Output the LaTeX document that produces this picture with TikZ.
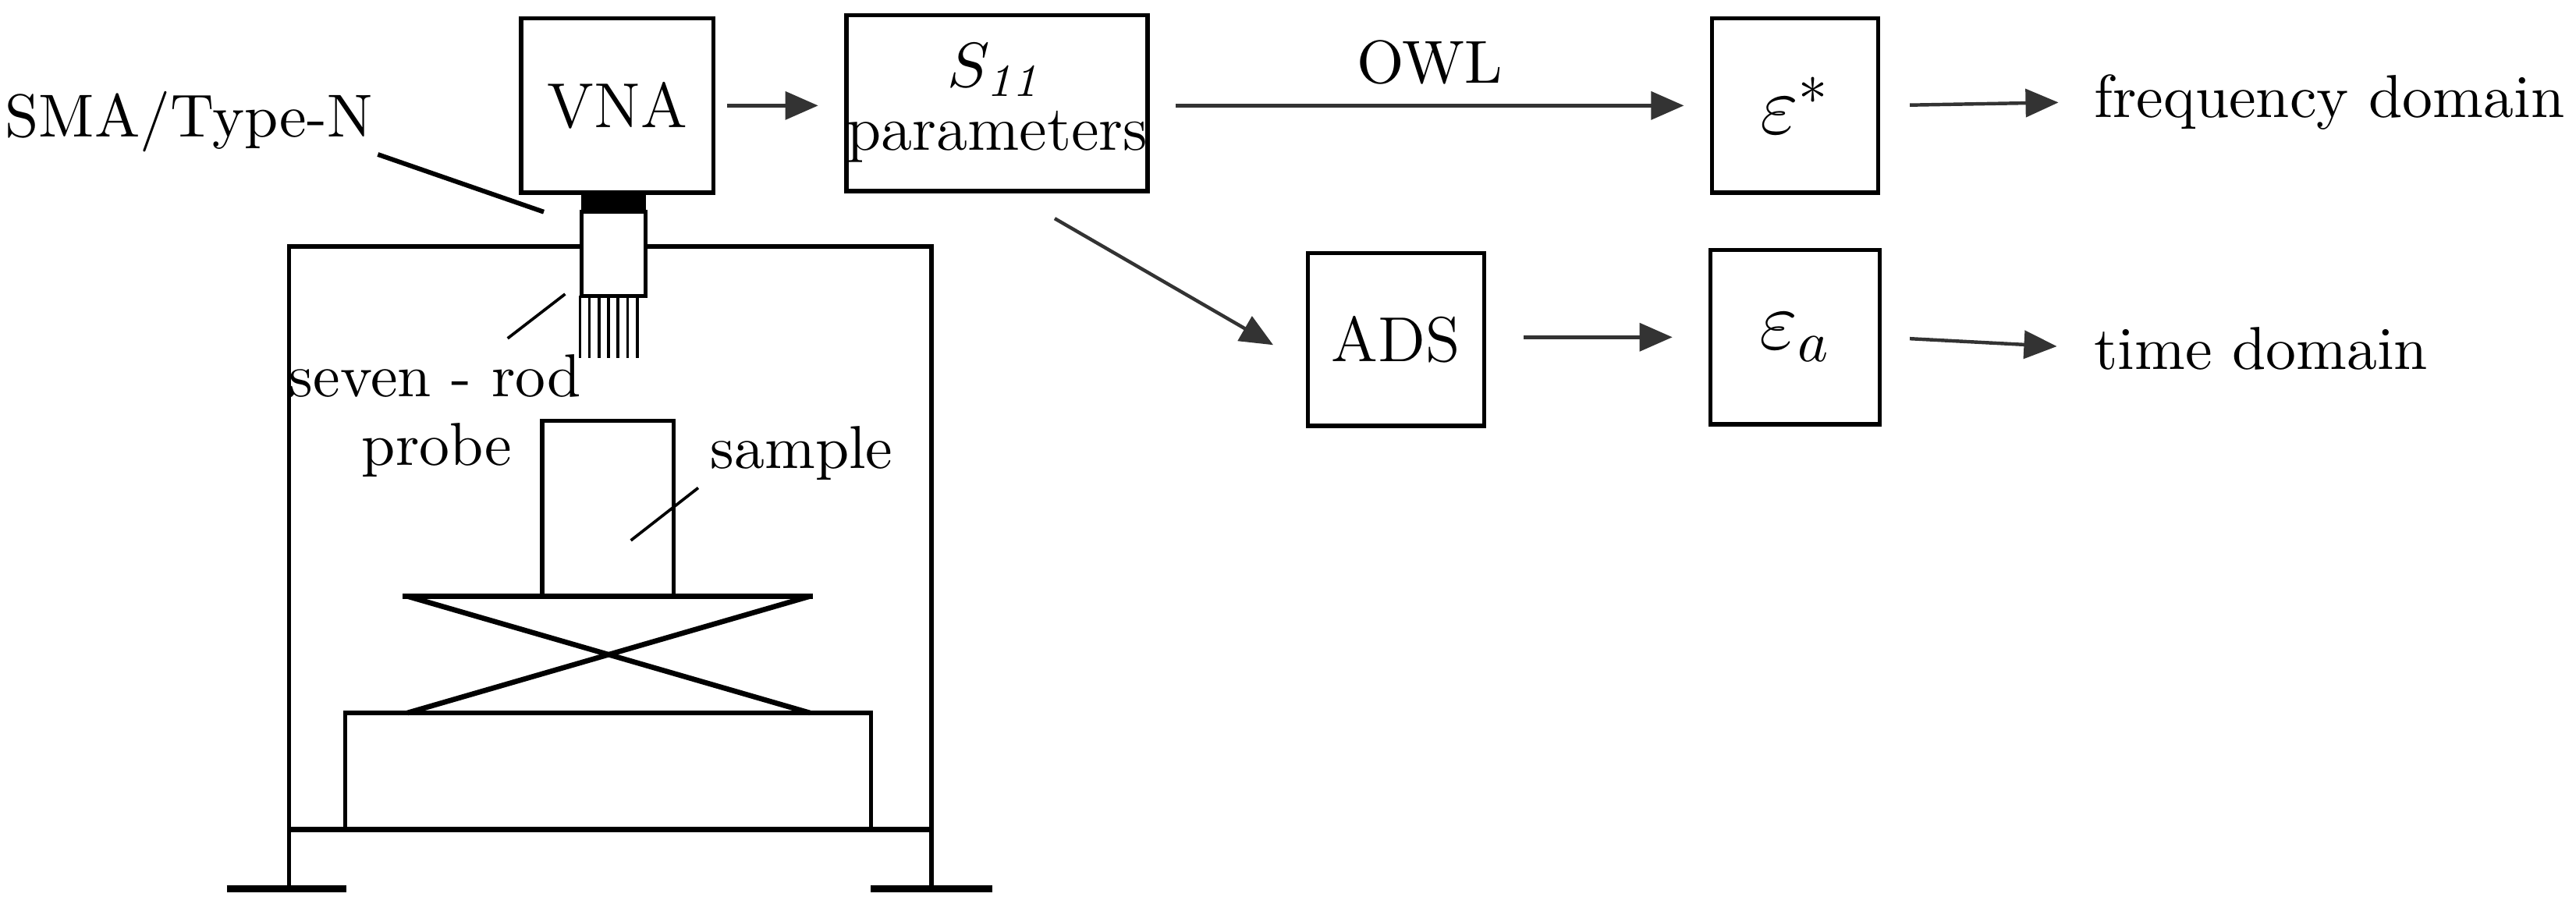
\documentclass[tikz,border=0pt]{standalone}
\usetikzlibrary{arrows.meta}
\begin{document}
\begin{tikzpicture}[x=0.01cm,y=-0.01cm,
  lw/.style={line width=0.7pt},
  box/.style={draw,lw,inner sep=0pt,anchor=north west,font=\fontsize{11}{13}\selectfont},
  arr/.style={line width=0.6pt,draw=black!80,-{Triangle[length=0.2cm,width=0.17cm]}},
  lbl/.style={inner sep=0pt,font=\fontsize{10.5}{12.5}\selectfont},
  lead/.style={line width=0.5pt}]
\useasboundingbox (0,0) rectangle (1568,550);
% boxes
\node[box,minimum width=1.17cm,minimum height=1.06cm] (vna) at (316,10) {VNA};
\node[box,minimum width=1.83cm,minimum height=1.07cm,align=center] (s11) at (514,8) {$S_{\mathit{11}}$\\[-2pt]parameters};
\node[box,minimum width=1.01cm,minimum height=1.06cm,font=\fontsize{14}{16}\selectfont] (eps) at (1041,10) {$\varepsilon^*$};
\node[box,minimum width=1.07cm,minimum height=1.05cm] (ads) at (795,153) {ADS};
\node[box,minimum width=1.03cm,minimum height=1.06cm,font=\fontsize{14}{16}\selectfont] (epa) at (1040,151) {$\varepsilon_a$};
\node[lbl,anchor=west] (fd) at (1274,62) {frequency domain};
\node[lbl,anchor=west] (td) at (1274,212) {time domain};
% arrows
\draw[arr,shorten <=0.07cm,shorten >=0.16cm] (vna.east) -- (s11.west|-vna.east);
\draw[arr,shorten <=0.16cm,shorten >=0.16cm] (s11.east|-eps.west) -- node[lbl,above=0.12cm]{OWL} (eps.west);
\draw[arr,shorten <=0.18cm,shorten >=0.21cm] (eps.east) -- (fd.west);
\coordinate (d1) at (642,133);
\coordinate (d2) at (775,210);
\draw[arr] (d1) -- (d2);
\draw[arr,shorten <=0.23cm,shorten >=0.22cm] (ads.east|-epa.west) -- (epa.west);
\draw[arr,shorten <=0.17cm,shorten >=0.22cm] (epa.east) -- (td.west);
% connector and probe
\fill (354,116) rectangle (393,129);
\draw[lw,fill=white] (354,129) rectangle (393,180);
\foreach \i in {0,...,6} \draw[line width=0.5pt] (353+\i*5.8,180) -- (353+\i*5.8,218);
% enclosure
\draw[lw] (354,150) -- (176,150) -- (176,541);
\draw[lw] (393,150) -- (567,150) -- (567,541);
\draw[line width=1pt] (176,505) -- (567,505);
\draw[line width=1.2pt] (138,541) -- (211,541);
\draw[line width=1.2pt] (530,541) -- (604,541);
\draw[lw] (210,505) rectangle (530,434);
\draw[lw] (330,363) rectangle (410,256);
\draw[line width=1pt] (245,363) -- (495,363);
\draw[line width=0.9pt] (248,363) -- (493,434);
\draw[line width=0.9pt] (493,363) -- (248,434);
% labels
\node[lbl] (sma) at (115,74) {SMA/Type-N};
\draw[line width=0.8pt] (230,94) -- (331,129);
\node[lbl] (rod) at (265,229) {seven - rod};
\draw[lead] (309,206) -- (344,179);
\node[lbl] (probe) at (266,274) {probe};
\node[lbl] (sample) at (488,276) {sample};
\draw[lead] (384,329) -- (425,297);
\end{tikzpicture}
\end{document}
